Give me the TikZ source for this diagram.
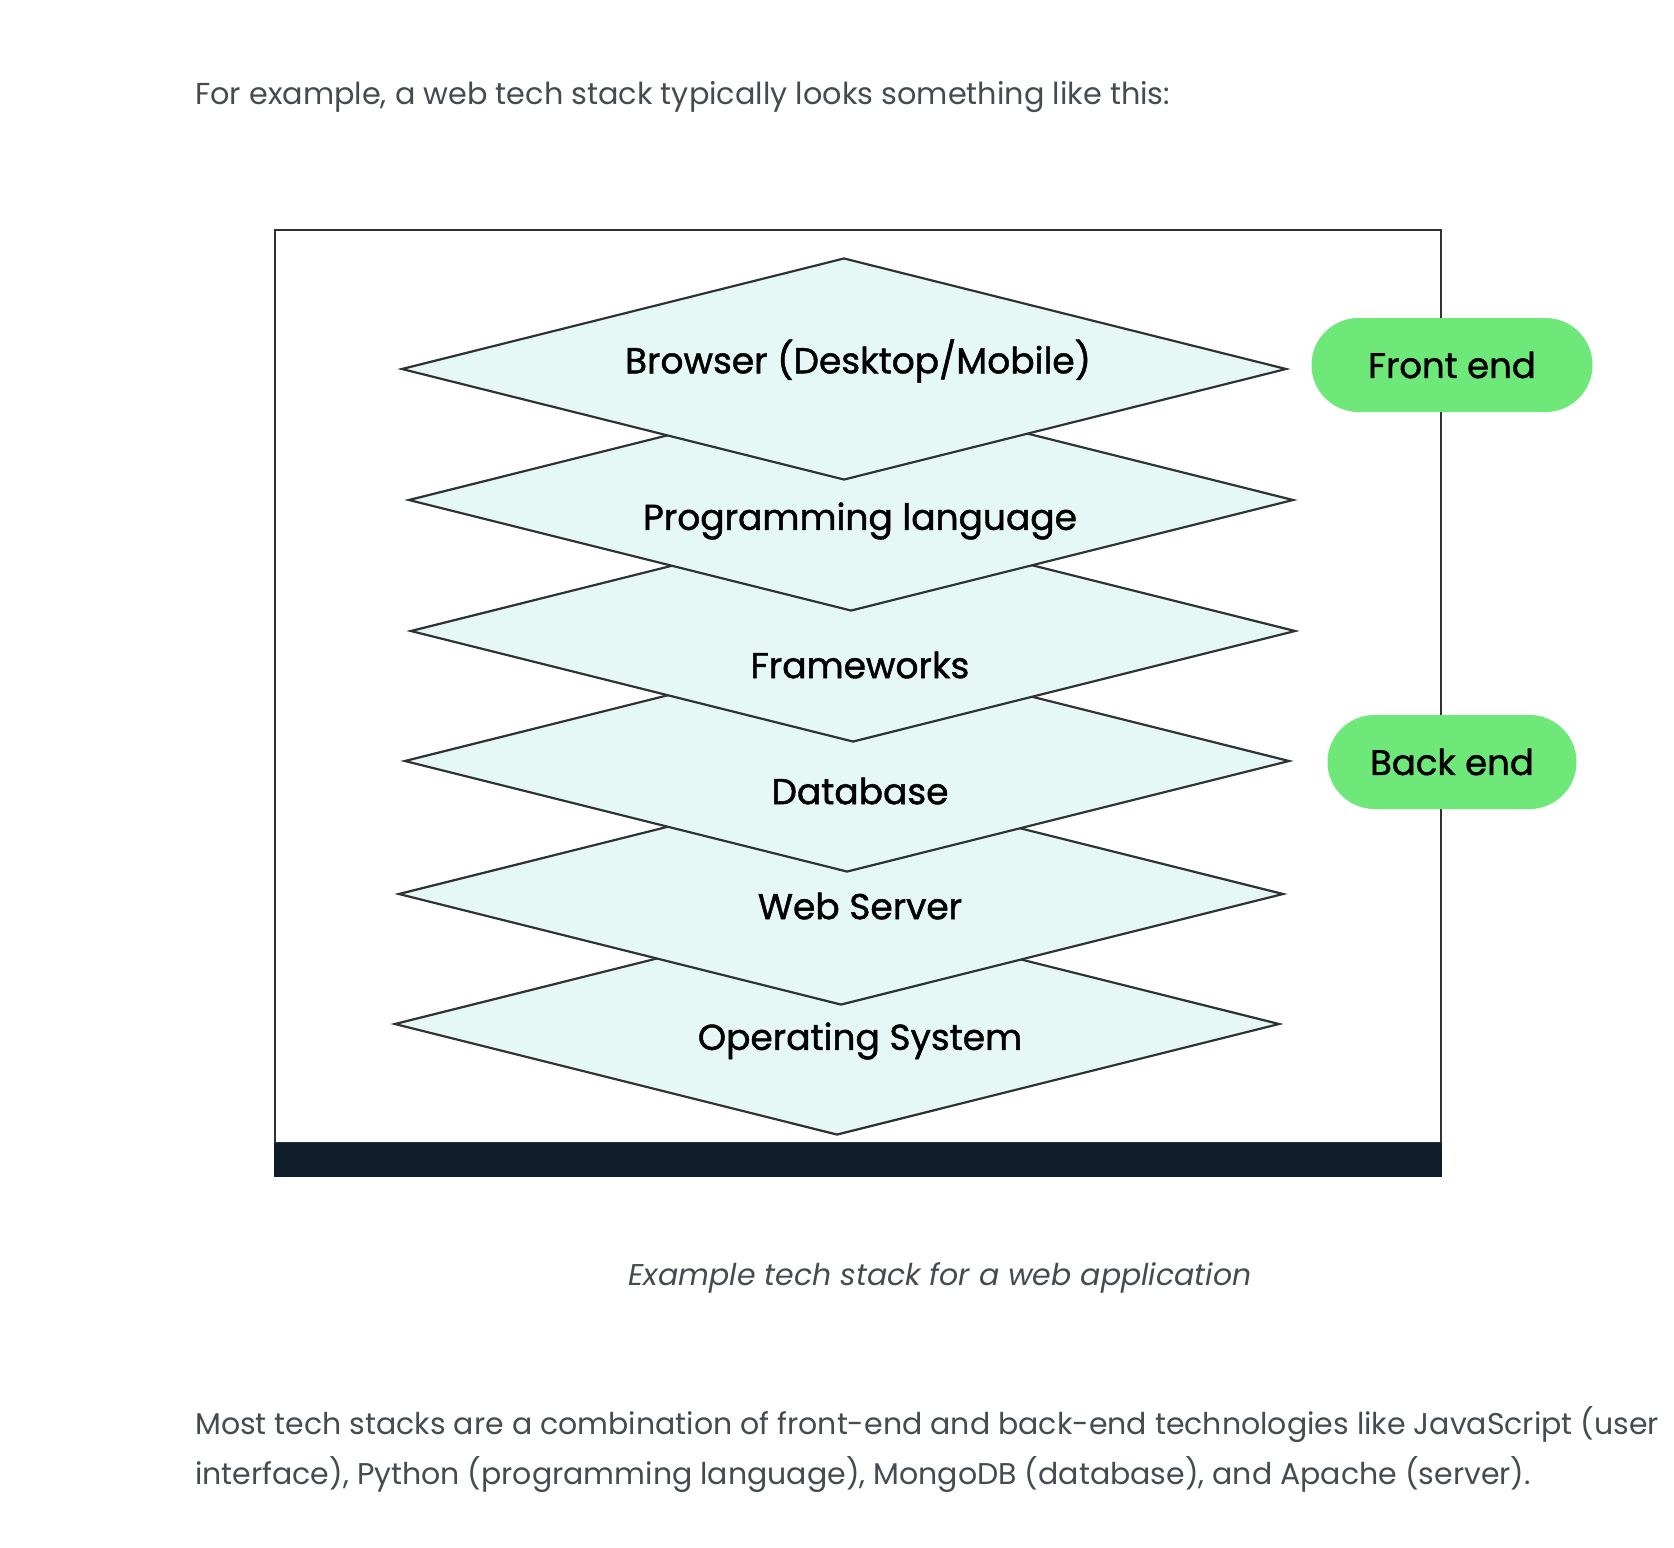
\documentclass[tikz,border=0pt]{standalone}
\usepackage{fontspec}
\setmainfont{Poppins}
\newfontfamily\stackfont{Poppins}[FakeBold=1.3]
\usetikzlibrary{shapes.geometric}

\definecolor{bodygrey}{HTML}{464B52}
\definecolor{edgegrey}{HTML}{2F3234}
\definecolor{layerfill}{HTML}{E5F8F5}
\definecolor{pillgreen}{HTML}{6DE879}
\definecolor{barnavy}{HTML}{0E1D29}

\tikzset{
  layer/.style={diamond, draw=edgegrey, line width=2.2pt, fill=layerfill,
    minimum width=885pt, minimum height=222pt, inner sep=0pt},
  layertext/.style={text=black, inner sep=0pt, font=\stackfont\fontsize{36}{43}\selectfont},
  pill/.style={fill=pillgreen, rounded corners=47pt, minimum height=94pt,
    inner sep=0pt, text=black, font=\stackfont\fontsize{35.5}{42}\selectfont},
  bodytext/.style={anchor=base west, inner sep=0pt, text=bodygrey,
    font=\fontsize{30}{36}\selectfont},
}

\begin{document}
\begin{tikzpicture}[x=1pt, y=-1pt]
\useasboundingbox (0,0) rectangle (1674,1548);
\fill[white] (0,0) rectangle (1674,1548);

\node[bodytext, font=\fontsize{30.3}{36}\selectfont] (intro) at (195,104) {For example, a web tech stack typically looks something like this:};

% frame of the figure
\draw[edgegrey, line width=2pt] (275,230) rectangle (1441,1143);
\fill[barnavy] (274,1143) rectangle (1442,1177);

% the stack, bottom layer first
\node[layer] (os) at (837,1024) {};
\node[layertext] (os-t) at (860,1041) {Operating System};
\node[layer] (web) at (841,894) {};
\node[layertext] (web-t) at (860,906) {Web Server};
\node[layer] (db) at (847,761) {};
\node[layertext] (db-t) at (860,791) {Database};
\node[layer] (fw) at (853,631) {};
\node[layertext] (fw-t) at (860,665) {Frameworks};
\node[layer] (lang) at (851,500) {};
\node[layertext] (lang-t) at (860,521) {Programming language};
\node[layer] (browser) at (844,369) {};
\node[layertext] (browser-t) at (858,361) {Browser (Desktop/Mobile)};

\node[pill, minimum width=281pt] (front) at (1452,365) {Front end};
\node[pill, minimum width=249pt] (back) at (1452,762) {Back end};

\node[text=bodygrey, inner sep=0pt, font=\fontsize{30}{36}\itshape\selectfont] (caption) at (940,1278) {Example tech stack for a web application};

\node[bodytext] (para1) at (195,1434) {Most tech stacks are a combination of front-end and back-end technologies like JavaScript (user};
\node[bodytext] (para2) at (195,1484) {interface), Python (programming language), MongoDB (database), and Apache (server).};
\end{tikzpicture}
\end{document}
